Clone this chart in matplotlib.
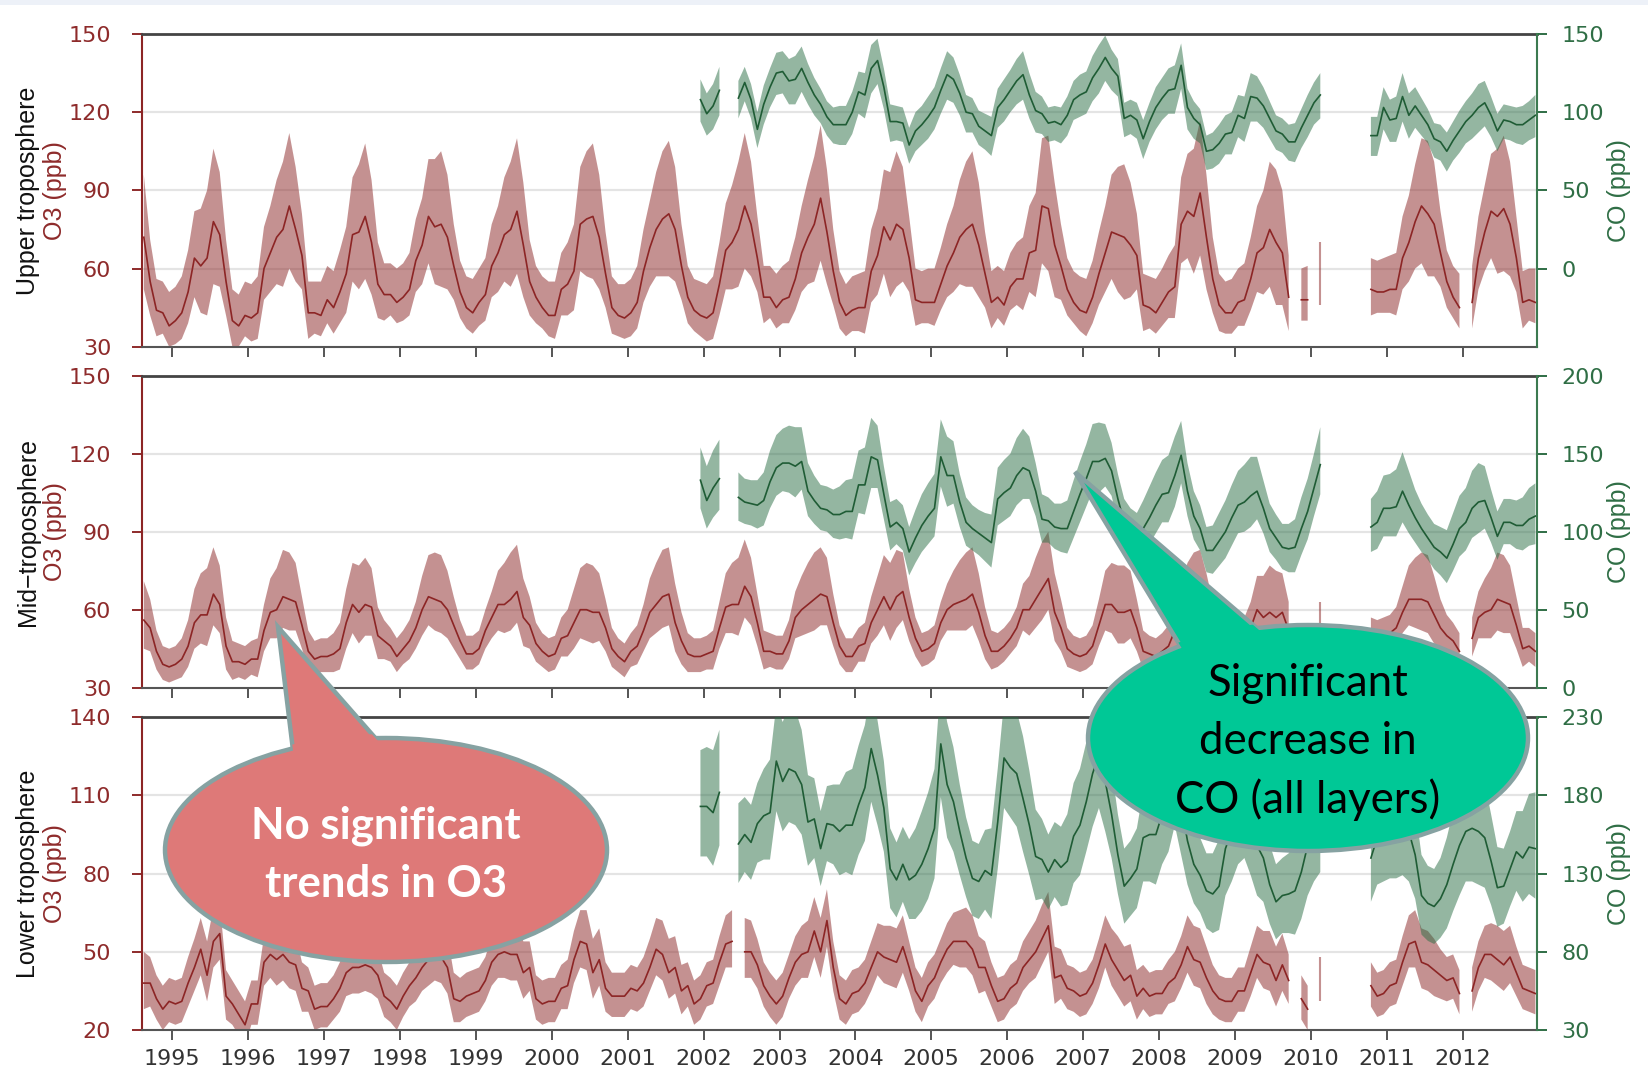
import numpy as np
import matplotlib.pyplot as plt
from matplotlib.patches import Ellipse, Polygon, Rectangle

plt.rcParams['font.family'] = 'Liberation Sans'

nan = np.nan
W, H = 1648, 1077

# monthly series, first month Aug 1994
start_year, start_month = 1994, 8
co_start = 88  # index of first CO month (Dec 2001)

# ---------------- O3 (ppb), monthly means ----------------
o3_upper = [72, 55, 44, 43, 38, 40, 43, 51, 64, 61,
            64, 78, 73, 55, 40, 38, 42, 41, 43, 60,
            66, 72, 75, 84, 75, 65, 43, 43, 42, 48,
            45, 51, 58, 73, 74, 80, 70, 54, 50, 50,
            47, 49, 52, 63, 69, 80, 76, 77, 72, 61,
            51, 45, 43, 47, 50, 61, 66, 73, 75, 82,
            69, 55, 49, 45, 42, 42, 52, 54, 59, 77,
            79, 80, 72, 58, 45, 42, 41, 43, 47, 59,
            68, 75, 79, 81, 75, 61, 49, 44, 42, 41,
            43, 54, 67, 70, 75, 84, 77, 64, 49, 49,
            45, 48, 49, 56, 66, 72, 77, 87, 74, 59,
            47, 42, 44, 45, 45, 59, 65, 76, 71, 77,
            75, 64, 48, 47, 47, 47, 54, 61, 66, 72,
            75, 77, 69, 58, 47, 49, 46, 53, 56, 56,
            66, 67, 84, 83, 69, 61, 52, 47, 44, 43,
            49, 58, 66, 74, 73, 72, 69, 65, 46, 45,
            43, 47, 51, 53, 77, 82, 80, 89, 72, 56,
            46, 43, 43, 47, 48, 56, 66, 68, 75, 70,
            66, 49, nan, 48, 48, nan, 56, nan, nan, nan,
            nan, nan, nan, nan, 52, 51, 51, 52, 52, 64,
            70, 78, 84, 81, 77, 66, 55, 49, 45, nan,
            47, 64, 74, 82, 80, 83, 77, 64, 47, 48, 47]

o3_mid = [56, 53, 44, 39, 38, 39, 41, 46, 55, 58,
          58, 66, 62, 46, 40, 40, 39, 41, 41, 52,
          59, 60, 65, 64, 63, 54, 44, 41, 42, 42,
          43, 45, 55, 62, 59, 62, 61, 50, 48, 46,
          42, 45, 48, 53, 60, 65, 64, 63, 60, 54,
          48, 43, 43, 45, 52, 57, 62, 62, 64, 67,
          57, 54, 47, 44, 42, 43, 49, 50, 55, 60,
          60, 59, 59, 53, 45, 42, 40, 44, 46, 52,
          59, 62, 65, 66, 55, 48, 43, 42, 42, 43,
          44, 53, 61, 62, 62, 69, 65, 55, 44, 44,
          43, 43, 48, 57, 60, 62, 64, 66, 65, 55,
          46, 42, 42, 46, 47, 55, 60, 65, 60, 65,
          67, 57, 49, 44, 45, 47, 55, 60, 62, 63,
          64, 66, 59, 50, 44, 44, 46, 49, 53, 60,
          60, 64, 68, 72, 59, 53, 45, 43, 42, 43,
          46, 54, 62, 62, 59, 59, 60, 53, 44, 43,
          42, 44, 46, 52, 57, 62, 64, 65, 59, 52,
          46, 44, 44, 46, 49, 53, 60, 57, 59, 57,
          59, 52, nan, 46, 45, nan, 55, nan, nan, nan,
          nan, nan, nan, nan, 49, 49, 50, 51, 53, 59,
          64, 64, 64, 63, 58, 53, 50, 48, 44, nan,
          49, 57, 59, 60, 64, 63, 62, 54, 45, 46, 44]

o3_lower = [38, 38, 32, 28, 31, 30, 31, 38, 44, 51,
            41, 54, 57, 33, 30, 26, 22, 30, 30, 46,
            49, 47, 49, 46, 45, 36, 35, 28, 29, 29,
            32, 36, 42, 44, 44, 45, 44, 41, 33, 31,
            28, 33, 37, 40, 44, 47, 49, 48, 44, 32,
            31, 33, 34, 35, 39, 46, 49, 50, 49, 49,
            42, 44, 32, 30, 31, 31, 36, 37, 47, 54,
            53, 42, 47, 36, 33, 33, 33, 36, 35, 38,
            44, 51, 49, 42, 44, 35, 37, 30, 32, 37,
            38, 46, 53, 54, nan, 50, 50, 45, 37, 33,
            30, 33, 40, 46, 49, 50, 58, 50, 62, 44,
            32, 30, 34, 35, 38, 44, 50, 48, 47, 46,
            52, 44, 35, 31, 37, 40, 46, 51, 54, 54,
            54, 51, 44, 44, 37, 31, 32, 36, 38, 44,
            47, 50, 55, 60, 40, 41, 36, 35, 33, 34,
            38, 45, 53, 47, 43, 39, 41, 33, 36, 33,
            34, 34, 38, 40, 45, 52, 47, 46, 40, 35,
            32, 31, 31, 35, 35, 42, 49, 46, 45, 39,
            45, 39, nan, 32, 28, nan, 39, nan, nan, nan,
            nan, nan, nan, nan, 37, 33, 34, 37, 38, 46,
            53, 54, 46, 45, 43, 41, 39, 40, 34, nan,
            35, 44, 49, 49, 47, 45, 48, 42, 36, 35, 34]

# ---------------- CO (ppb), monthly means from Dec 2001 ----------------
co_upper = [108, 99, 104, 114, nan, nan, 109, 119, 108, 89, 105, 116,
            125, 126, 120, 121, 128, 119, 111, 105, 97, 92,
            92, 92, 100, 113, 111, 128, 133, 116, 94, 94,
            93, 79, 88, 92, 97, 103, 114, 124, 121, 112,
            100, 99, 91, 88, 85, 103, 108, 114, 120, 124,
            111, 101, 99, 93, 94, 92, 98, 108, 111, 113,
            122, 128, 135, 128, 123, 96, 98, 95, 83, 94,
            103, 109, 114, 115, 130, 103, 96, 92, 75, 76,
            80, 86, 87, 98, 96, 110, 109, 104, 96, 88,
            86, 81, 81, 90, 98, 106, 111, nan, nan, nan,
            nan, nan, nan, nan, 85, 85, 103, 95, 96, 110,
            98, 104, 98, 92, 83, 81, 75, 82, 88, 94,
            98, 103, 106, 98, 88, 95, 94, 92, 92, 95, 98]

co_mid = [133, 120, 128, 134, nan, nan, 122, 119, 118, 117, 120, 132,
          141, 144, 144, 142, 145, 126, 120, 115, 114, 111,
          111, 113, 113, 130, 130, 148, 146, 124, 103, 106,
          102, 87, 96, 104, 110, 115, 148, 136, 136, 119,
          106, 102, 99, 96, 93, 121, 125, 128, 136, 141,
          139, 126, 108, 107, 103, 102, 102, 113, 124, 134,
          145, 145, 147, 139, 121, 106, 100, 96, 102, 109,
          117, 124, 125, 136, 149, 126, 110, 102, 88, 88,
          94, 100, 109, 117, 119, 123, 126, 115, 102, 96,
          90, 89, 90, 102, 113, 128, 143, nan, nan, nan,
          nan, nan, nan, nan, 103, 106, 115, 115, 116, 126,
          117, 109, 102, 96, 90, 87, 83, 92, 102, 106,
          115, 119, 120, 109, 97, 106, 106, 104, 104, 108, 110]

co_lower = [173, 173, 169, 182, nan, nan, 149, 155, 150, 162, 167, 169,
            202, 189, 197, 195, 187, 163, 165, 146, 162, 161,
            157, 161, 161, 174, 185, 210, 193, 172, 133, 126,
            136, 126, 129, 136, 146, 159, 213, 187, 176, 157,
            140, 127, 125, 132, 129, 163, 204, 198, 194, 178,
            161, 141, 139, 131, 139, 134, 138, 154, 161, 176,
            194, 206, 189, 168, 142, 122, 127, 133, 153, 155,
            155, 168, 178, 195, 174, 151, 136, 129, 119, 117,
            122, 146, 157, 168, 174, 163, 148, 140, 123, 112,
            116, 117, 119, 131, 148, 157, 165, nan, nan, nan,
            nan, nan, nan, nan, 140, 153, 157, 159, 161, 163,
            157, 142, 116, 111, 109, 114, 123, 136, 148, 157,
            159, 157, 153, 138, 121, 122, 133, 144, 140, 147, 146]

# typical spread of the shaded range by calendar month (Jan..Dec), above / below the mean
o3_upper_hi = [13, 14, 16, 18, 22, 26, 28, 24, 16, 12, 12, 13]
o3_upper_lo = [9, 10, 12, 15, 18, 22, 24, 20, 13, 10, 8, 8]
o3_mid_hi = [7, 8, 10, 13, 16, 18, 18, 15, 11, 8, 7, 7]
o3_mid_lo = [6, 7, 8, 10, 11, 12, 12, 11, 9, 7, 6, 6]
o3_lower_hi = [9, 9, 10, 11, 12, 13, 13, 12, 10, 9, 9, 9]
o3_lower_lo = [8, 8, 9, 9, 10, 10, 10, 10, 9, 8, 8, 8]
co_upper_hi = [13, 14, 15, 14, 12, 11, 10, 10, 11, 12, 12, 13]
co_upper_lo = [14, 15, 16, 15, 14, 13, 12, 12, 12, 13, 13, 14]
co_mid_hi = [22, 24, 25, 22, 18, 16, 15, 15, 16, 18, 20, 21]
co_mid_lo = [18, 19, 20, 18, 16, 15, 14, 14, 15, 16, 17, 18]
co_lower_hi = [38, 40, 40, 35, 30, 26, 24, 24, 26, 30, 34, 36]
co_lower_lo = [32, 34, 34, 32, 28, 25, 24, 24, 25, 28, 30, 32]

layer_names = ['Upper troposphere', 'Mid\u2212troposphere', 'Lower troposphere']
o3_ticks = [[30, 60, 90, 120, 150], [30, 60, 90, 120, 150], [20, 50, 80, 110, 140]]
co_ticks = [[0, 50, 100, 150], [0, 50, 100, 150, 200], [30, 80, 130, 180, 230]]
co_limits = [(-50, 150), (0, 200), (30, 230)]
years = list(range(1995, 2013))

RED = '#8C2525'
RED_TXT = '#8E2B2B'
GREEN = '#1F5C35'
GREEN_TXT = '#2F6E45'
O3_FILL = '#8B2525'
CO_FILL = '#2A6E45'
TICK_FONT = 'DejaVu Sans'

n = len(o3_upper)
idx = np.arange(n)
t = start_year + (start_month - 1 + idx + 0.5) / 12.0
cal = (start_month - 1 + idx) % 12


def draw_series(ax, x, months, mean, hi, lo, line_color, fill_color):
    mean = np.array(mean, dtype=float)
    top = mean + np.array(hi)[months]
    bot = mean - np.array(lo)[months]
    ax.fill_between(x, bot, top, color=fill_color, alpha=0.5, lw=0)
    ax.plot(x, mean, color=line_color, lw=1.2)
    ok = np.isfinite(mean)
    for i in range(len(mean)):
        prev_ok = ok[i - 1] if i > 0 else False
        next_ok = ok[i + 1] if i < len(mean) - 1 else False
        if ok[i] and not prev_ok and not next_ok:
            ax.vlines(x[i], bot[i], top[i], color=fill_color, alpha=0.5, lw=1.5)


fig = plt.figure(figsize=(W / 100, H / 100), dpi=100)

# panel boxes in pixels (left, top, right, bottom)
boxes = [(141.7, 34.0, 1536.7, 346.7),
         (141.7, 375.7, 1536.7, 687.7),
         (141.7, 717.3, 1536.7, 1030.0)]

panels = [(o3_upper, o3_upper_hi, o3_upper_lo, co_upper, co_upper_hi, co_upper_lo),
          (o3_mid, o3_mid_hi, o3_mid_lo, co_mid, co_mid_hi, co_mid_lo),
          (o3_lower, o3_lower_hi, o3_lower_lo, co_lower, co_lower_hi, co_lower_lo)]

for p, (box, data) in enumerate(zip(boxes, panels)):
    l, tp, r, b = box
    ax = fig.add_axes([l / W, 1 - b / H, (r - l) / W, (b - tp) / H])
    o3, o3h, o3l, co, coh, col = data
    ticks = o3_ticks[p]
    for v in ticks[1:-1]:
        ax.axhline(v, color='#E4E4E4', lw=1.6, zorder=0)
    draw_series(ax, t, cal, o3, o3h, o3l, RED, O3_FILL)
    ax.set_xlim(1994.597, 2012.976)
    ax.set_ylim(ticks[0], ticks[-1])
    ax.set_yticks(ticks)
    ax.set_yticklabels([str(v) for v in ticks], family=TICK_FONT)
    ax.set_xticks(years)
    ax.set_xticklabels([str(y) for y in years], family=TICK_FONT)
    ax.tick_params(axis='y', direction='out', length=7, width=1.4, colors=RED_TXT,
                   labelsize=16, pad=15)
    ax.tick_params(axis='x', direction='out', length=7, width=1.4, color='#555555',
                   labelcolor='#333333', labelsize=16, pad=7, labelbottom=(p == 2))
    ax.spines['right'].set_visible(False)
    ax.spines['top'].set_color('#444444')
    ax.spines['top'].set_linewidth(2.0)
    ax.spines['bottom'].set_color('#555555')
    ax.spines['bottom'].set_linewidth(1.5)
    ax.spines['left'].set_color(RED)
    ax.spines['left'].set_linewidth(1.5)

    tw = ax.twinx()
    draw_series(tw, t[co_start:], cal[co_start:], co, coh, col, GREEN, CO_FILL)
    tw.set_ylim(*co_limits[p])
    tw.set_yticks(co_ticks[p])
    tw.set_yticklabels([str(v) for v in co_ticks[p]], family=TICK_FONT)
    tw.tick_params(axis='y', direction='out', length=7, width=1.4, colors=GREEN_TXT,
                   labelsize=16, pad=11)
    for s in ['top', 'left', 'bottom']:
        tw.spines[s].set_visible(False)
    tw.spines['right'].set_color('#3C7A50')
    tw.spines['right'].set_linewidth(1.5)
    tw.set_xlim(1994.597, 2012.976)

# overlay in pixel coordinates for labels and call-outs
ov = fig.add_axes([0, 0, 1, 1], zorder=10)
ov.set_xlim(0, W)
ov.set_ylim(H, 0)
ov.axis('off')
ov.patch.set_alpha(0)

ov.add_patch(Rectangle((0, 0), W, 5, facecolor='#EDF1F8', edgecolor='none'))

for p, box in enumerate(boxes):
    yc = (box[1] + box[3]) / 2
    ov.text(28, yc, layer_names[p], rotation=90, ha='center', va='center',
            fontsize=18, color='#111111')
    ov.text(55, yc, 'O3 (ppb)', rotation=90, ha='center', va='center',
            fontsize=18, color=RED_TXT)
    ov.text(1619, yc, 'CO (ppb)', rotation=90, ha='center', va='center',
            fontsize=18, color=GREEN_TXT)


def bubble(center, width, height, pointer, face, edge, lw=3.2):
    tri = Polygon(pointer, closed=True, facecolor=face, edgecolor=edge, lw=lw,
                  joinstyle='miter', zorder=20)
    ell = Ellipse(center, width, height, facecolor=face, edgecolor=edge, lw=lw, zorder=21)
    cover = Polygon(pointer, closed=True, facecolor=face, edgecolor='none', zorder=22)
    ov.add_patch(tri)
    ov.add_patch(ell)
    ov.add_patch(cover)
    clip = Ellipse(center, width + 8, height + 8, transform=ov.transData)
    cover.set_clip_path(clip)


bubble((386, 850), 442, 224, [(278, 627), (296, 775), (399, 765)], '#DE7978', '#86A2A2')
bubble((1308, 738), 440, 226, [(1075, 472), (1201, 680), (1294, 660)], '#00C896', '#86A2A2')

ov.text(386, 826, 'No significant', ha='center', va='center', fontsize=31.5,
        fontweight='bold', family='Lato', color='white', zorder=30)
ov.text(386, 884, 'trends in O3', ha='center', va='center', fontsize=31.5,
        fontweight='bold', family='Lato', color='white', zorder=30)
for yy, line in zip([684, 742, 800], ['Significant', 'decrease in', 'CO (all layers)']):
    ov.text(1308, yy, line, ha='center', va='center', fontsize=31.5, family='Lato',
            color='black', zorder=30)

fig.savefig('out.png', dpi=100)
